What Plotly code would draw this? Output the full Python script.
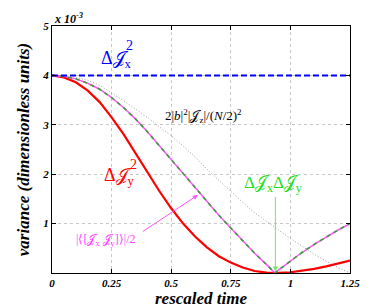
import plotly.graph_objects as go

# rescaled time
t = [0.0, 0.05, 0.10, 0.15, 0.20, 0.25, 0.30, 0.35, 0.40, 0.45, 0.50, 0.55, 0.60,
     0.65, 0.70, 0.75, 0.80, 0.85, 0.90, 0.935, 0.95, 1.00, 1.05, 1.10, 1.15, 1.20, 1.25]

# variances in units of 1e-3
var_x = [4.0] * len(t)
var_y = [4.00, 3.96, 3.86, 3.69, 3.46, 3.15, 2.81, 2.43, 2.04, 1.66, 1.31, 1.00, 0.74,
         0.52, 0.34, 0.21, 0.11, 0.04, 0.007, 0.0, 0.001, 0.015, 0.044, 0.084, 0.133, 0.19, 0.25]
prod_xy = [4.00, 3.98, 3.93, 3.84, 3.72, 3.55, 3.35, 3.12, 2.86, 2.58, 2.29, 2.00, 1.72,
           1.44, 1.17, 0.91, 0.65, 0.40, 0.17, 0.0, 0.06, 0.24, 0.42, 0.58, 0.73, 0.87, 1.00]
comm_xy = prod_xy
bound_z = [4.00, 3.99, 3.96, 3.90, 3.80, 3.65, 3.49, 3.32, 3.15, 2.96, 2.78, 2.57, 2.35,
           2.10, 1.87, 1.65, 1.43, 1.22, 1.04, 0.92, 0.87, 0.70, 0.54, 0.38, 0.24, 0.11, 0.0]

xticks = [0, 0.25, 0.5, 0.75, 1, 1.25]
xticklabels = ["0", "0.25", "0.5", "0.75", "1", "1.25"]
yticks = [1, 2, 3, 4, 5]
yticklabels = ["1", "2", "3", "4", "5"]

J = "𝒥"
SERIF = "Liberation Serif, Times New Roman, serif"

fig = go.Figure()
fig.add_trace(go.Scatter(x=t, y=bound_z, mode="lines",
                         line=dict(color="#a0a0a0", width=1, dash="1px,2px")))
fig.add_trace(go.Scatter(x=t, y=var_y, mode="lines",
                         line=dict(color="#ff0000", width=2.2)))
fig.add_trace(go.Scatter(x=t, y=comm_xy, mode="lines",
                         line=dict(color="#ff55ff", width=1.5)))
fig.add_trace(go.Scatter(x=t, y=prod_xy, mode="lines",
                         line=dict(color="#3f9a3f", width=1.6, dash="4px,4px")))
fig.add_trace(go.Scatter(x=t, y=var_x, mode="lines",
                         line=dict(color="#0000ff", width=2, dash="6px,3px")))

ann = []
def label(x, y, text, color, size, **kw):
    d = dict(x=x, y=y, xref="x", yref="y", text=text, showarrow=False,
             font=dict(family=SERIF, size=size, color=color))
    d.update(kw)
    ann.append(d)

# Delta J_x^2
label(0.27, 4.33, "Δ" + J + "<sub>x</sub>", "#0000ff", 18)
label(0.325, 4.60, "2", "#0000ff", 14)
# Delta J_y^2
label(0.285, 1.95, "Δ" + J + "<sub>y</sub>", "#ff0000", 18)
label(0.34, 2.20, "2", "#ff0000", 14)
# bound label
label(0.635, 3.17, "2|<i>b</i>|<sup>2</sup>|" + J + "<sub>z</sub>|/(<i>N</i>/2)<sup>2</sup>", "#000000", 13)
# Delta J_x Delta J_y
label(0.925, 1.80, "Δ" + J + "<sub>x</sub>Δ" + J + "<sub>y</sub>", "#22dd22", 17)
# commutator
label(0.225, 0.66, "|⟨[" + J + "<sub>x</sub> " + J + "<sub>y</sub>]⟩|/2", "#ff44ff", 12)

# arrows
ann.append(dict(x=0.612, y=1.58, ax=0.375, ay=0.82, xref="x", yref="y", axref="x", ayref="y",
                text="", showarrow=True, arrowhead=2, arrowsize=1, arrowwidth=1,
                arrowcolor="#ff55ff"))
ann.append(dict(x=0.937, y=0.03, ax=0.937, ay=1.57, xref="x", yref="y", axref="x", ayref="y",
                text="", showarrow=True, arrowhead=2, arrowsize=1, arrowwidth=1,
                arrowcolor="#66ee66"))

# exponent label
ann.append(dict(x=0.0, y=1.0, xref="paper", yref="paper", xanchor="left", yanchor="bottom",
                text="<b><i>x 10<sup>-3</sup></i></b>", showarrow=False,
                font=dict(family=SERIF, size=12, color="black"), yshift=-2))
# axis titles
ann.append(dict(x=0.5, y=-0.105, xref="paper", yref="paper", xanchor="center", yanchor="middle",
                text="<b><i>rescaled time</i></b>", showarrow=False,
                font=dict(family=SERIF, size=17, color="black")))
ann.append(dict(x=-0.095, y=0.5, xref="paper", yref="paper", xanchor="center", yanchor="middle",
                text="<b><i>variance (dimensionless units)</i></b>", showarrow=False, textangle=-90,
                font=dict(family=SERIF, size=17, color="black")))

axis_common = dict(showgrid=True, gridcolor="#c8c8c8", griddash="dot", gridwidth=1,
                   showline=True, linecolor="black", linewidth=1, mirror="ticks",
                   ticks="inside", ticklen=4, tickcolor="black", zeroline=False,
                   tickfont=dict(family=SERIF, size=11, color="black"))

# page body has an 8px margin: shrink the figure so the plot area lands where the reference has it
fig.update_layout(
    width=364, height=300, autosize=False,
    margin=dict(l=44, r=14, t=17, b=35),
    paper_bgcolor="white", plot_bgcolor="white",
    showlegend=False,
    annotations=ann,
    xaxis=dict(range=[0, 1.25], tickvals=xticks,
               ticktext=["<b><i>%s</i></b>" % s for s in xticklabels], **axis_common),
    yaxis=dict(range=[0, 5], tickvals=yticks,
               ticktext=["<b><i>%s</i></b>" % s for s in yticklabels], **axis_common),
)

fig.write_html("out.html")
